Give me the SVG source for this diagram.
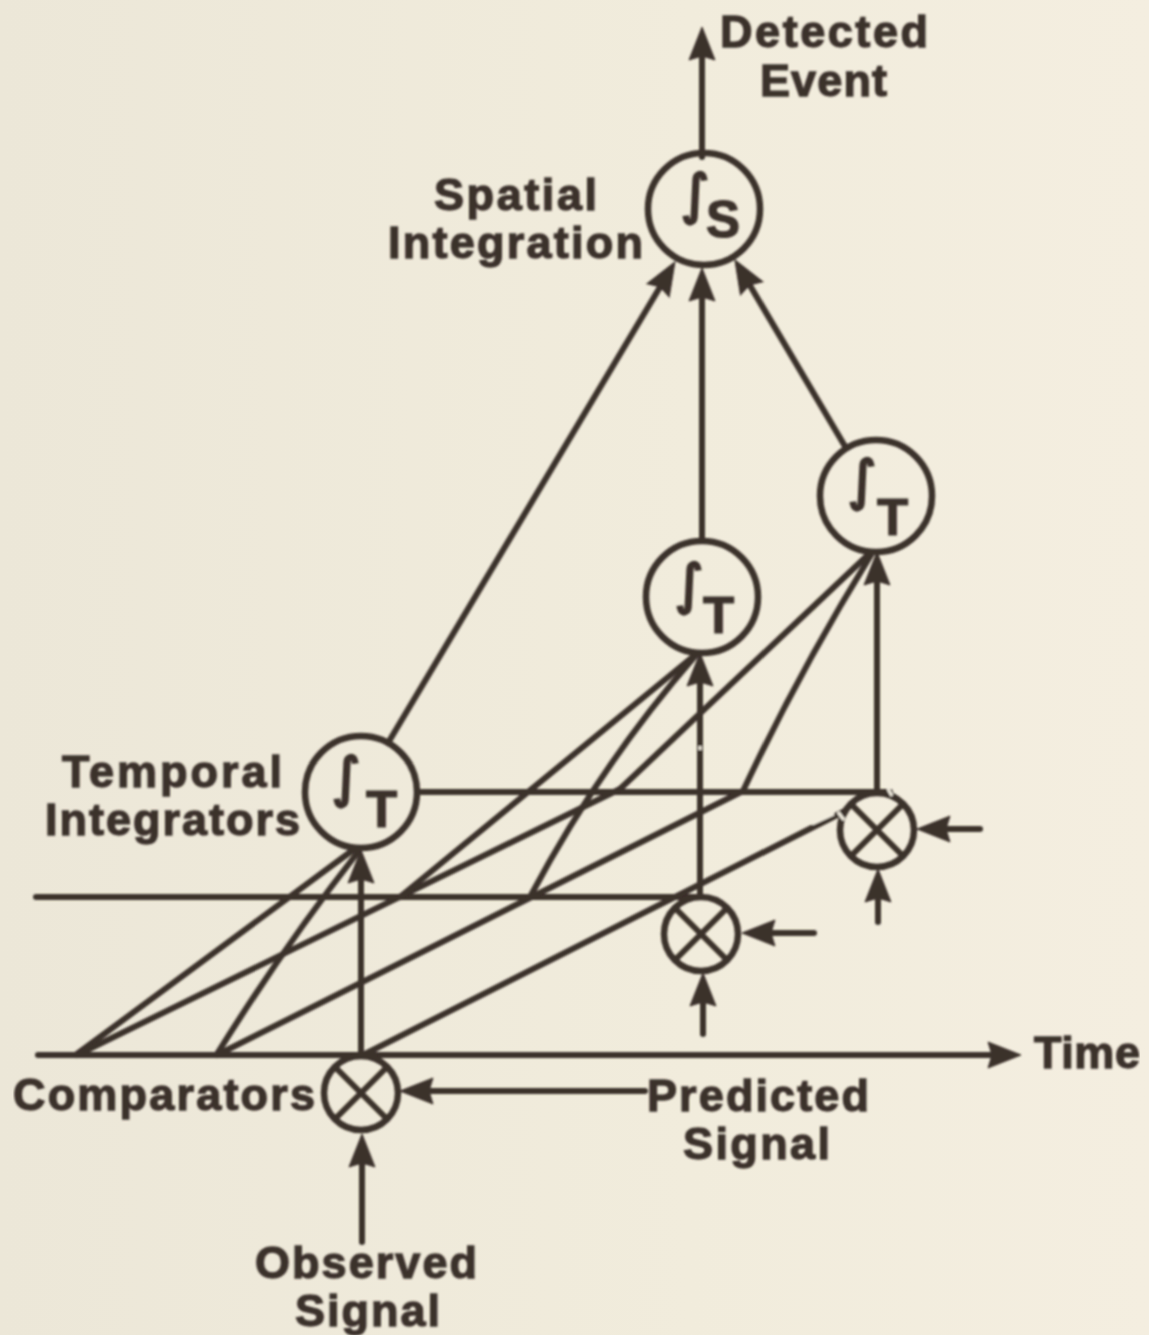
<svg xmlns="http://www.w3.org/2000/svg" width="1149" height="1335" viewBox="0 0 1149 1335">
<style>
.l{fill:none;stroke:#3b302c;stroke-width:6;stroke-linecap:round}
.a{marker-end:url(#ah)}
.n{fill:none;stroke:#3b302c;stroke-width:6.500}
.x{fill:none;stroke:#3b302c;stroke-width:6}
.t{font-family:"Liberation Sans",Arial,sans-serif;font-weight:700;font-size:45px;fill:#3b302c;stroke:#3b302c;stroke-width:1.300}
.i{font-family:"DejaVu Sans",sans-serif;font-weight:400;font-size:54px;fill:#3b302c;stroke:#3b302c;stroke-width:2.800}
.s{font-family:"Liberation Sans",Arial,sans-serif;font-weight:700;font-size:51px;fill:#3b302c;stroke:#3b302c;stroke-width:1.200}
.g{fill:none;stroke:#f3eee0;stroke-width:3}
</style>
<defs>
<linearGradient id="bg" x1="0" y1="0" x2="1" y2="0"><stop offset="0" stop-color="#ece7d8"/><stop offset=".6" stop-color="#f1ecdc"/><stop offset="1" stop-color="#f4eee0"/></linearGradient>
<marker id="ah" markerUnits="userSpaceOnUse" viewBox="-36 -15 38 30" markerWidth="38" markerHeight="30" refX="-14" refY="0" orient="auto">
<path d="M0 0L-33 -13L-29 0L-33 13Z" fill="#3b302c" stroke="#3b302c" stroke-width="1"/>
</marker>
<filter id="soft" x="0" y="0" width="1" height="1"><feGaussianBlur stdDeviation=".8"/></filter>
</defs>
<rect width="1149" height="1335" fill="url(#bg)"/>
<g filter="url(#soft)">
<g id="connectors">
<path class="l" d="M36 897H702"/>
<path class="l" d="M417 792H890"/>
<path class="l" d="M77 1054L353 850"/>
<path class="l" d="M217 1054Q285 945 358 852"/>
<path class="l" d="M77 1055L620 789"/>
<path class="l" d="M217 1055L743 791"/>
<path class="l" d="M363 1055L845 811"/>
<path class="l" d="M400 897L695 655"/>
<path class="l" d="M530 897Q600 765 696 655"/>
<path class="l" d="M620 789L870 553"/>
<path class="l" d="M743 791Q800 670 871 555"/>
<path class="l a" d="M702 157V41"/>
<path class="l a" d="M388 743L667.800 274"/>
<path class="l a" d="M702 541V282"/>
<path class="l a" d="M846 448L742 272"/>
<path class="l a" d="M361 1055V864"/>
<path class="l a" d="M700 897V667"/>
<path class="l a" d="M877 792V566"/>
<path class="l a" d="M38 1055H1007"/>
<path class="l a" d="M645 1091H414"/>
<path class="l a" d="M362 1242V1148"/>
<path class="l a" d="M814 933H756"/>
<path class="l a" d="M703 1034V987"/>
<path class="l a" d="M980 829H931"/>
<path class="l a" d="M878 922V883"/>
<path class="g" d="M700 746V750"/>
<path class="g" d="M812 824L834 814"/>
</g>
<g id="spatial-integrator">
<circle class="n" cx="704" cy="209" r="56"/>
<text class="i" x="681" y="213">∫</text>
<text class="s" x="706" y="237">S</text>
</g>
<g id="temporal-integrator-1">
<circle class="n" cx="361" cy="792" r="56"/>
<text class="i" x="332" y="796">∫</text>
<text class="s" x="366" y="827">T</text>
</g>
<g id="temporal-integrator-2">
<circle class="n" cx="702" cy="597" r="56"/>
<text class="i" x="675" y="603">∫</text>
<text class="s" x="703" y="633">T</text>
</g>
<g id="temporal-integrator-3">
<circle class="n" cx="876" cy="496" r="56"/>
<text class="i" x="848" y="499">∫</text>
<text class="s" x="877" y="535">T</text>
</g>
<g id="comparator-1">
<circle class="n" cx="361" cy="1093" r="37"/>
<path class="x" d="M335 1067L387 1119M387 1067L335 1119"/>
</g>
<g id="comparator-2">
<circle class="n" cx="701" cy="934" r="37"/>
<path class="x" d="M675 908L727 960M727 908L675 960"/>
</g>
<g id="comparator-3">
<circle class="n" cx="877" cy="830" r="37"/>
<path class="x" d="M851 804L903 856M903 804L851 856"/>
<path class="g" d="M888 789L892 796M838 812L844 820"/>
</g>
<g id="labels">
<text class="t" x="720" y="47" textLength="208">Detected</text>
<text class="t" x="760" y="96" textLength="127">Event</text>
<text class="t" x="434" y="210" textLength="163">Spatial</text>
<text class="t" x="388" y="258" textLength="255">Integration</text>
<text class="t" x="62" y="787" textLength="220">Temporal</text>
<text class="t" x="45" y="835" textLength="255">Integrators</text>
<text class="t" x="13" y="1110" textLength="302">Comparators</text>
<text class="t" x="647" y="1111" textLength="222">Predicted</text>
<text class="t" x="683" y="1159" textLength="147">Signal</text>
<text class="t" x="1034" y="1068" textLength="106">Time</text>
<text class="t" x="255" y="1278" textLength="222">Observed</text>
<text class="t" x="295" y="1326" textLength="145">Signal</text>
</g>
</g>
</svg>
